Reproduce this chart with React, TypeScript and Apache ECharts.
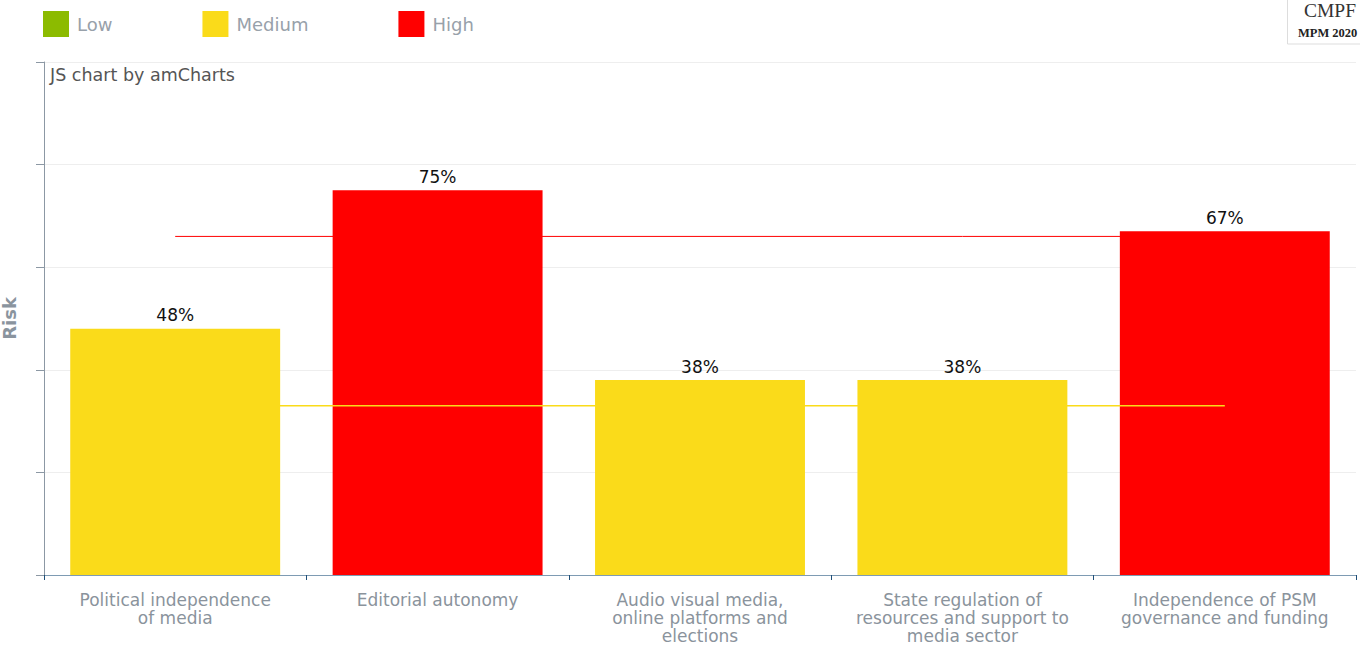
import React, { useEffect, useRef } from "react";
import * as echarts from "echarts";

const categories = [
  "Political independence\nof media",
  "Editorial autonomy",
  "Audio visual media,\nonline platforms and\nelections",
  "State regulation of\nresources and support to\nmedia sector",
  "Independence of PSM\ngovernance and funding",
];
const lowValues: (number | string)[] = ["-", "-", "-", "-", "-"];
const mediumValues: (number | string)[] = [48, "-", 38, 38, "-"];
const highValues: (number | string)[] = ["-", 75, "-", "-", 67];
const lowThreshold = [33, 33, 33, 33, 33];
const highThreshold = [66, 66, 66, 66, 66];

const FONT = "DejaVu Sans, Verdana, sans-serif";
const YELLOW = "#fadb1a";
const RED = "#ff0000";

export default function App() {
  const ref = useRef<HTMLDivElement>(null);
  useEffect(() => {
    if (!ref.current) return;
    const chart = echarts.init(ref.current, undefined, { renderer: "svg" });
    const barLabel = {
      show: true,
      position: "top",
      distance: 5,
      color: "#111",
      fontSize: 17,
      fontFamily: FONT,
      formatter: "{c}%",
    };
    chart.setOption({
      animation: false,
      textStyle: { fontFamily: FONT },
      legend: {
        left: 38,
        top: 6,
        itemWidth: 26,
        itemHeight: 26,
        itemGap: 90,
        icon: "rect",
        data: ["Low", "Medium", "High"],
        textStyle: { fontSize: 18, color: "#98a1aa", fontFamily: FONT, padding: [0, 0, 0, 3] },
        selectedMode: false,
      },
      grid: { left: 44, right: 4, top: 62, bottom: 71, outerBoundsMode: "none", containLabel: false },
      xAxis: {
        type: "category",
        data: categories,
        axisLine: { lineStyle: { color: "#7e9bb3", width: 1 } },
        axisTick: { show: true, length: 5, lineStyle: { color: "#1f4f78" } },
        axisLabel: {
          interval: 0,
          margin: 16,
          fontSize: 17,
          lineHeight: 18,
          color: "#8a939c",
          fontFamily: FONT,
        },
      },
      yAxis: {
        type: "value",
        min: 0,
        max: 100,
        interval: 20,
        name: "Risk",
        nameLocation: "middle",
        nameGap: 26,
        nameTextStyle: { fontSize: 18, fontWeight: "bold", color: "#8a949e", fontFamily: FONT },
        axisLine: { show: true, lineStyle: { color: "#8c98a4" } },
        axisTick: { show: true, length: 8, lineStyle: { color: "#8c98a4" } },
        axisLabel: { show: false },
        splitLine: { lineStyle: { color: "#eeeeee" } },
      },
      series: [
        {
          name: "Low",
          type: "bar",
          data: lowValues,
          barWidth: "80%",
          barGap: "-100%",
          itemStyle: { color: "#8cbb00" },
          label: barLabel,
        },
        {
          name: "Medium",
          type: "bar",
          data: mediumValues,
          barWidth: "80%",
          barGap: "-100%",
          itemStyle: { color: YELLOW },
          label: barLabel,
        },
        {
          name: "High",
          type: "bar",
          data: highValues,
          barWidth: "80%",
          barGap: "-100%",
          itemStyle: { color: RED },
          label: barLabel,
        },
        {
          name: "lowLine",
          type: "line",
          data: lowThreshold,
          symbol: "none",
          lineStyle: { color: YELLOW, width: 1.5 },
          silent: true,
          z: 5,
        },
        {
          name: "highLine",
          type: "line",
          data: highThreshold,
          symbol: "none",
          lineStyle: { color: RED, width: 1 },
          silent: true,
          z: 5,
        },
      ],
      graphic: [
        {
          type: "text",
          left: 50,
          top: 66,
          style: { text: "JS chart by amCharts", fontSize: 17.5, fill: "#555", fontFamily: FONT },
        },
        {
          type: "rect",
          shape: { x: 1287.5, y: -2, width: 90, height: 46 },
          style: { fill: "#fff", stroke: "#dddddd", lineWidth: 1 },
        },
        {
          type: "text",
          x: 1304,
          y: 0,
          style: { text: "CMPF", fontSize: 19.5, fill: "#333", fontFamily: "Liberation Serif, serif" },
        },
        {
          type: "text",
          x: 1298,
          y: 26,
          style: {
            text: "MPM 2020",
            fontSize: 12.5,
            fontWeight: "bold",
            fill: "#222",
            fontFamily: "Liberation Serif, serif",
          },
        },
      ],
    });
    return () => chart.dispose();
  }, []);
  return (
    <div
      ref={ref}
      style={{ position: "fixed", left: 0, top: 0, width: 1360, height: 646, background: "#fff" }}
    />
  );
}
